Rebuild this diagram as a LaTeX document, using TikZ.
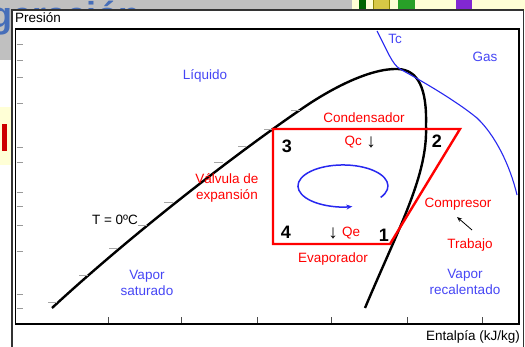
\documentclass[tikz,border=0pt]{standalone}
\usepackage{fontspec}
\setmainfont{Liberation Sans}
\usetikzlibrary{arrows.meta}
\definecolor{bggray}{RGB}{192,192,192}
\definecolor{paleyellow}{RGB}{255,255,214}
\definecolor{titleblue}{RGB}{70,110,185}
\definecolor{regionblue}{RGB}{70,70,245}
\definecolor{linkblue}{RGB}{40,40,240}
\definecolor{boxolive}{RGB}{215,200,70}
\definecolor{boxgreen}{RGB}{40,160,40}
\definecolor{boxdkgreen}{RGB}{0,100,0}
\definecolor{boxpurple}{RGB}{130,40,210}
\tikzset{
  lbl/.style={font=\fontsize{13.5}{15.5}\selectfont, inner sep=0pt},
  proclbl/.style={lbl, text=red, align=center},
  regionlbl/.style={lbl, text=regionblue, align=center},
  heatlbl/.style={font=\fontsize{19}{19}\selectfont, inner sep=0pt},
  ptnum/.style={font=\fontsize{18}{18}\selectfont\bfseries, inner sep=0pt},
  dome/.style={line width=2.4pt, black},
  cycleline/.style={line width=2.4pt, red, line join=miter},
  critline/.style={line width=1.1pt, linkblue},
  flowarrow/.style={line width=1.5pt, linkblue, -{Stealth[length=6pt, width=5pt]}},
  workarrow/.style={line width=0.8pt, -{Stealth[length=5pt, width=4pt]}},
  axtick/.style={line width=0.8pt, gray!80},
  curvetick/.style={line width=0.7pt, gray!70}
}
\begin{document}
\begin{tikzpicture}[x=1pt,y=-1pt]
  \useasboundingbox (0,0) rectangle (525,347);
  % screen backdrop
  \fill[white] (0,0) rectangle (525,347);
  \fill[bggray] (0,0) rectangle (352,11);
  \fill[bggray] (0,0) rectangle (12,60);
  \fill[paleyellow] (352,0) rectangle (525,11);
  \fill[paleyellow] (0,107) rectangle (12,165);
  \fill[red!80!black] (2,124) rectangle (7,151);
  \fill[boxdkgreen] (359,0) rectangle (366,10);
  \filldraw[fill=boxolive, draw=olive] (373,-1) rectangle (389,9);
  \fill[boxgreen] (398,0) rectangle (415,10);
  \fill[boxpurple] (456,0) rectangle (472,10);
  \begin{scope}
    \clip (0,0) rectangle (525,347);
    \node[anchor=base west, inner sep=0pt, text=titleblue, font=\fontsize{36}{36}\selectfont\bfseries] (ttl) at (-10,28) {geración};
  \end{scope}
  % panel and plot frame
  \filldraw[fill=white, draw=black!80, line width=1.2pt] (12,10) rectangle (523.5,360);
  \node[lbl, anchor=west] (pres) at (15,18) {Presión};
  \node[lbl, anchor=east] (ent) at (520,337) {Entalpía (kJ/kg)};
  \draw[line width=1.8pt] (15.5,29) rectangle (519,324);
  \foreach \ty in {44,60,77,103,147,162,192,206,225,251,294,308}
    \draw[axtick] (16.5,\ty) -- (23,\ty);
  \foreach \tx in {108,181,257,331,407,482}
    \draw[axtick, black!70] (\tx,323) -- (\tx,317);

  % saturation dome
  \draw[dome] (52,308) .. controls (120,245) and (220,165) .. (300,110)
    .. controls (330,89) and (370,68) .. (398,69)
    .. controls (418,70) and (427,88) .. (426,125)
    .. controls (428,175) and (400,225) .. (365,308);
  \foreach \cx/\cy in {300/110,273/129,247/146,223/162,173/202,147/225,118/248,88/275,57/302}
    \draw[curvetick] ({\cx-9},\cy) -- (\cx,\cy);
  % critical isotherm
  \draw[critline] (377,31) .. controls (388,52) and (392,64) .. (400,69)
    .. controls (420,80) and (455,100) .. (477,118)
    .. controls (495,135) and (510,165) .. (517,195);

  % cycle
  \coordinate (p1) at (390,244);
  \coordinate (p2) at (460,129);
  \coordinate (p3) at (273,129);
  \coordinate (p4) at (273,244);
  \draw[cycleline] (p1) -- (p2) -- (p3) -- (p4) -- cycle;
  \node[ptnum] (n1) at (384,235) {1};
  \node[ptnum] (n2) at (437,141) {2};
  \node[ptnum] (n3) at (287,146) {3};
  \node[ptnum] (n4) at (286,232) {4};
  \draw[flowarrow] (380.7,197.4) arc[start angle=33, end angle=-282, x radius=45, y radius=21];

  % labels
  \node[proclbl] (cond) at (364,118) {Condensador};
  \node[proclbl, anchor=east] (qc) at (362,142) {Qc};
  \node[heatlbl] (qcarr) at (371,142) {↓};
  \node[heatlbl] (qearr) at (333,233) {↓};
  \node[proclbl, anchor=west] (qe) at (342,233) {Qe};
  \node[proclbl] (evap) at (333,259) {Evaporador};
  \node[proclbl] (valv) at (227,188) {Válvula de\\expansión};
  \node[proclbl] (comp) at (458,204) {Compresor};
  \node[proclbl] (trab) at (470,245) {Trabajo};
  \coordinate (wtail) at (472,230);
  \coordinate (wtip) at (457,217);
  \draw[workarrow] (wtail) -- (wtip);
  \node[regionlbl] (liq) at (205,76) {Líquido};
  \node[regionlbl] (gas) at (485,57) {Gas};
  \node[regionlbl] (tc) at (395,39) {Tc};
  \node[regionlbl] (vsat) at (147,283) {Vapor\\saturado};
  \node[regionlbl] (vrec) at (465,282) {Vapor\\recalentado};
  \node[lbl] (tzero) at (115,220) {T = 0ºC};
\end{tikzpicture}
\end{document}
